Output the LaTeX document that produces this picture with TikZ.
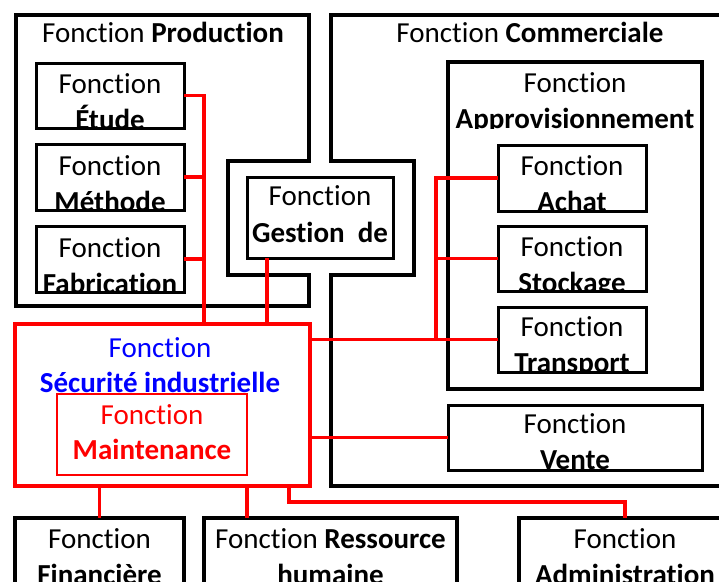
\documentclass[tikz,border=0pt]{standalone}
\usepackage{fontspec}
\setmainfont[Ligatures=NoCommon]{Carlito}

\tikzset{
  outer/.style={draw, line width=4pt, line join=miter},
  ibox/.style={draw, rectangle, line width=3pt, inner sep=0pt, outer sep=0pt},
  link/.style={draw=red, line width=3.5pt},
  lbl/.style={anchor=base, inner sep=0pt, font=\fontsize{29}{36}\selectfont},
}

\begin{document}
\begin{tikzpicture}[x=1pt,y=1pt,yscale=-1,xscale=1]
    \useasboundingbox (0,0) rectangle (719,581);
    \clip (0,0) rectangle (719,581);

    % Production block (with notch on the right)
    \draw[outer] (16,15) -- (309,15) -- (309,161) -- (228,161) -- (228,275) -- (309,275) -- (309,306) -- (16,306) -- cycle ;
    \node[lbl] (prodtitle) at (163,42) {Fonction \textbf{Production}};

    % Commerciale block (with notch on the left)
    \draw[outer] (730,15) -- (331,15) -- (331,161) -- (414,161) -- (414,275) -- (331,275) -- (331,486) -- (730,486) -- cycle ;
    \node[lbl] (comtitle) at (530,42) {Fonction \textbf{Commerciale}};

    % Boxes
    \node[ibox, minimum width=148pt, minimum height=65pt] (etude) at (110,95.5) {};
    \node[ibox, minimum width=148pt, minimum height=66pt] (methode) at (110,177) {};
    \node[ibox, minimum width=148pt, minimum height=66pt] (fabrication) at (110,259) {};
    \node[ibox, minimum width=146pt, minimum height=81pt] (gestion) at (320,217.5) {};
    \node[ibox, line width=4pt, minimum width=254pt, minimum height=327pt] (approv) at (575,225.5) {};
    \node[ibox, minimum width=148pt, minimum height=66pt] (achat) at (572,178) {};
    \node[ibox, minimum width=148pt, minimum height=65pt] (stockage) at (572,258.5) {};
    \node[ibox, minimum width=148pt, minimum height=65pt] (transport) at (572,339.5) {};
    \node[ibox, minimum width=254pt, minimum height=65pt] (vente) at (575,437.5) {};
    \node[ibox, draw=red, line width=3.5pt, minimum width=295pt, minimum height=162pt] (secu) at (162.5,405) {};
    \node[ibox, draw=red, line width=2.5pt, minimum width=190pt, minimum height=81pt] (maint) at (152,434.5) {};
    \node[ibox, line width=4pt, minimum width=169pt, minimum height=102pt] (fin) at (99.5,569) {};
    \node[ibox, line width=4pt, minimum width=253pt, minimum height=102pt] (rhum) at (330.5,569) {};
    \node[ibox, line width=4pt, minimum width=212pt, minimum height=102pt] (admin) at (625,569) {};

    % Text Nodes
    \begin{scope}
      \clip (etude.south west) rectangle (etude.north east);
      \node[lbl] (etude1) at (110,93) {Fonction};
      \node[lbl] (etude2) at (110,129) {\textbf{Étude}};
    \end{scope}
    \begin{scope}
      \clip (methode.south west) rectangle (methode.north east);
      \node[lbl] (methode1) at (110,175) {Fonction};
      \node[lbl] (methode2) at (110,211) {\textbf{Méthode}};
    \end{scope}
    \begin{scope}
      \clip (fabrication.south west) rectangle (fabrication.north east);
      \node[lbl] (fabrication1) at (110,257) {Fonction};
      \node[lbl] (fabrication2) at (110,293) {\textbf{Fabrication}};
    \end{scope}
    \node[lbl] (gestion1) at (320,205) {Fonction};
    \node[lbl] (gestion2) at (320,242) {\textbf{Gestion~~de}};
    \begin{scope}
      \clip (approv.north west) rectangle (702,128);
      \node[lbl] (approv1) at (575,92) {Fonction};
      \node[lbl] (approv2) at (575,128) {\textbf{Approvisionnement}};
    \end{scope}
    \begin{scope}
      \clip (achat.south west) rectangle (achat.north east);
      \node[lbl] (achat1) at (572,175) {Fonction};
      \node[lbl] (achat2) at (572,211) {\textbf{Achat}};
    \end{scope}
    \begin{scope}
      \clip (stockage.south west) rectangle (stockage.north east);
      \node[lbl] (stockage1) at (572,256) {Fonction};
      \node[lbl] (stockage2) at (572,292) {\textbf{Stockage}};
    \end{scope}
    \begin{scope}
      \clip (transport.south west) rectangle (transport.north east);
      \node[lbl] (transport1) at (572,336) {Fonction};
      \node[lbl] (transport2) at (572,372) {\textbf{Transport}};
    \end{scope}
    \begin{scope}
      \clip (vente.south west) rectangle (vente.north east);
      \node[lbl] (vente1) at (575,433) {Fonction};
      \node[lbl] (vente2) at (575,469) {\textbf{Vente}};
    \end{scope}
    \node[lbl, text=blue] (secu1) at (160,357) {Fonction};
    \node[lbl, text=blue] (secu2) at (160,392) {\textbf{Sécurité industrielle}};
    \node[lbl, text=red] (maint1) at (152,424) {Fonction};
    \node[lbl, text=red] (maint2) at (152,459) {\textbf{Maintenance}};
    \node[lbl] (fin1) at (99.5,548) {Fonction};
    \node[lbl] (fin2) at (99.5,584) {\textbf{Financière}};
    \node[lbl] (rhum1) at (330.5,548) {Fonction \textbf{Ressource}};
    \node[lbl] (rhum2) at (330.5,584) {\textbf{humaine}};
    \node[lbl] (admin1) at (625,548) {Fonction};
    \node[lbl] (admin2) at (625,584) {\textbf{Administration}};

    % Red links
    \coordinate (busL) at (204,0);
    \coordinate (gesX) at (267,0);
    \coordinate (busR) at (436,0);
    \coordinate (rhX) at (247,0);
    \coordinate (adX) at (289,0);
    \draw[link] (etude.east) -| (secu.north -| busL);
    \draw[link] (methode.east) -- (methode.east -| busL);
    \draw[link] (fabrication.east) -- (fabrication.east -| busL);
    \draw[link] (gestion.south -| gesX) -- (secu.north -| gesX);
    \draw[link] (secu.east |- transport.west) -- (transport.west);
    \draw[link] (achat.west) -| (busR |- transport.west);
    \draw[link] (stockage.west) -- (stockage.west -| busR);
    \draw[link] (secu.east |- vente.west) -- (vente.west);
    \draw[link] (secu.south -| fin.north) -- (fin.north);
    \draw[link] (secu.south -| rhX) -- (rhum.north -| rhX);
    \draw[link] (secu.south -| adX) -- ++(0,16) -| (admin.north);

\end{tikzpicture}
\end{document}
